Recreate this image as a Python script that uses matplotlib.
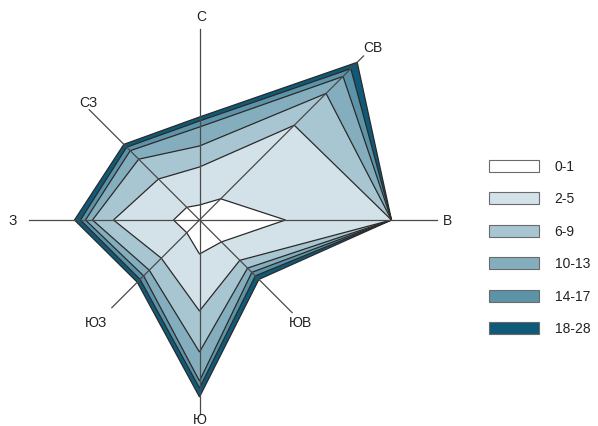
import numpy as np
import matplotlib.pyplot as plt
from matplotlib.patches import Polygon, Rectangle

plt.rcParams['font.family'] = ['Liberation Sans', 'DejaVu Sans']

directions = ['С', 'СВ', 'В', 'ЮВ', 'Ю', 'ЮЗ', 'З', 'СЗ']
classes = ['0-1', '2-5', '6-9', '10-13', '14-17', '18-28']
colors = ['#ffffff', '#d3e2e8', '#a8c6d2', '#84aebe', '#5c93a7', '#0f5a78']

# frequency of each wind speed class by direction (С, СВ, В, ЮВ, Ю, ЮЗ, З, СЗ)
freq_0_1 = [1.5, 3.0, 8.6, 3.1, 3.4, 1.8, 2.6, 1.8]
freq_2_5 = [3.8, 10.4, 10.6, 2.6, 5.7, 3.6, 6.0, 4.0]
freq_6_9 = [2.1, 4.5, 0.0, 1.1, 4.1, 1.7, 2.1, 2.8]
freq_10_13 = [1.9, 2.4, 0.0, 0.6, 2.9, 0.8, 0.7, 1.2]
freq_14_17 = [0.6, 1.1, 0.0, 0.5, 0.7, 0.5, 0.5, 0.5]
freq_18_28 = [0.4, 0.9, 0.0, 0.5, 0.9, 0.4, 0.6, 0.4]

freqs = np.array([freq_0_1, freq_2_5, freq_6_9, freq_10_13, freq_14_17, freq_18_28])
cum = np.cumsum(freqs, axis=0)

# compass angles, clockwise from north
theta = np.deg2rad(np.arange(8) * 45)
sx, sy = np.sin(theta), np.cos(theta)

# axis line lengths and label offsets (layout)
axis_len = [19.1, 23.2, 23.7, 13.1, 19.4, 12.4, 17.1, 15.6]
label_pos = [(0.15, 20.4), (17.35, 17.3), (24.75, 0.0), (10.1, -10.2),
             (0.05, -19.9), (-10.3, -10.2), (-18.65, 0.0), (-11.15, 11.8)]

fig = plt.figure(figsize=(5.98, 4.27), dpi=100)
ax = fig.add_axes([0, 0, 1, 1])
ax.set_xlim(-19.95, 39.85)
ax.set_ylim(-20.6, 22.1)
ax.axis('off')

# outer layers first so the inner ones sit on top
for k in range(len(classes) - 1, -1, -1):
    pts = np.column_stack([cum[k] * sx, cum[k] * sy])
    ax.add_patch(Polygon(pts, closed=True, facecolor=colors[k],
                         edgecolor='#2a2a2a', linewidth=0.9, zorder=2 + (5 - k) * 0.1))

for i in range(8):
    ax.plot([0, axis_len[i] * sx[i]], [0, axis_len[i] * sy[i]],
            color='#4a4a4a', linewidth=0.9, zorder=4)
    ax.text(label_pos[i][0], label_pos[i][1], directions[i], fontsize=10,
            ha='center', va='center', color='#222222', zorder=5)

# legend
for k, name in enumerate(classes):
    yc = 5.43 - k * 3.25
    ax.add_patch(Rectangle((28.95, yc - 0.6), 5.0, 1.2, facecolor=colors[k],
                           edgecolor='#6a6a6a', linewidth=0.8))
    ax.text(35.5, yc, name, fontsize=10, ha='left', va='center', color='#222222')

fig.savefig('out.png', dpi=100)
